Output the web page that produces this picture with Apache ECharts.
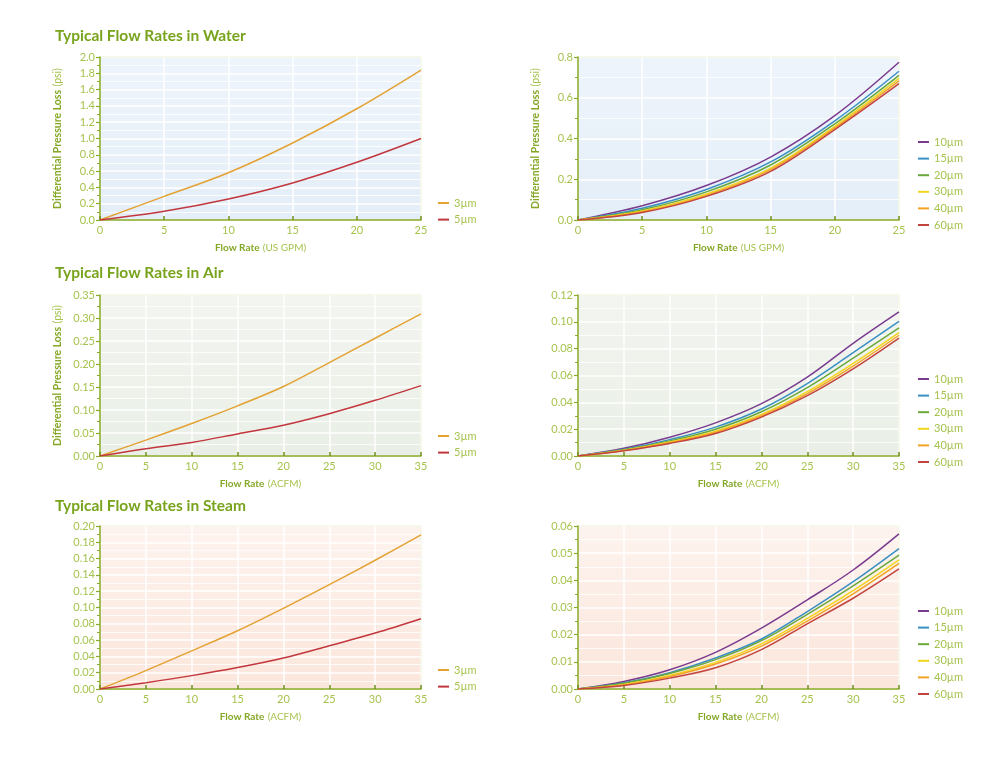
<!DOCTYPE html>
<html>
<head>
<meta charset="utf-8">
<script src="https://cdn.jsdelivr.net/npm/echarts@6/dist/echarts.min.js"></script>
<style>
  html, body { margin: 0; padding: 0; background: #fff; }
  #chart { width: 1000px; height: 782px; }
</style>
</head>
<body>
<div id="chart"></div>
<script>
// x values
var waterX = [0, 5, 10, 15, 20, 25];
var gasX = [0, 5, 10, 15, 20, 25, 30, 35];

// water, left chart
var water3 = [0, 0.29, 0.58, 0.945, 1.365, 1.84];
var water5 = [0, 0.107, 0.258, 0.455, 0.708, 1.0];
// water, right chart
var water10 = [0, 0.070, 0.169, 0.309, 0.512, 0.774];
var water15 = [0, 0.058, 0.150, 0.285, 0.487, 0.730];
var water20 = [0, 0.050, 0.138, 0.270, 0.472, 0.710];
var water30 = [0, 0.044, 0.128, 0.255, 0.460, 0.695];
var water40 = [0, 0.040, 0.121, 0.247, 0.452, 0.683];
var water60 = [0, 0.037, 0.116, 0.239, 0.444, 0.669];

// air, left chart
var air3 = [0, 0.0346, 0.0706, 0.109, 0.151, 0.203, 0.256, 0.309];
var air5 = [0, 0.016, 0.0295, 0.048, 0.067, 0.092, 0.121, 0.153];
// air, right chart
var air10 = [0, 0.0057, 0.0140, 0.0247, 0.0390, 0.0588, 0.0840, 0.1074];
var air15 = [0, 0.0050, 0.0122, 0.0215, 0.0350, 0.0540, 0.0770, 0.1003];
var air20 = [0, 0.0046, 0.0112, 0.0200, 0.0330, 0.0510, 0.0730, 0.0955];
var air30 = [0, 0.0043, 0.0104, 0.0185, 0.0310, 0.0480, 0.0690, 0.0920];
var air40 = [0, 0.0041, 0.0099, 0.0177, 0.0300, 0.0465, 0.0670, 0.0900];
var air60 = [0, 0.0040, 0.0094, 0.0168, 0.0290, 0.0450, 0.0650, 0.0879];

// steam, left chart
var steam3 = [0, 0.0226, 0.0468, 0.0715, 0.099, 0.128, 0.158, 0.189];
var steam5 = [0, 0.0078, 0.0164, 0.0263, 0.038, 0.053, 0.0686, 0.0862];
// steam, right chart
var steam10 = [0, 0.0028, 0.0071, 0.0135, 0.0224, 0.0328, 0.0438, 0.0571];
var steam15 = [0, 0.0023, 0.0060, 0.0114, 0.0184, 0.0285, 0.0395, 0.0517];
var steam20 = [0, 0.0021, 0.0057, 0.0108, 0.0178, 0.0275, 0.0380, 0.0493];
var steam30 = [0, 0.0017, 0.0050, 0.0098, 0.0166, 0.0260, 0.0362, 0.0475];
var steam40 = [0, 0.0015, 0.0046, 0.0092, 0.0158, 0.0250, 0.0350, 0.0462];
var steam60 = [0, 0.0013, 0.0040, 0.0078, 0.0145, 0.0240, 0.0334, 0.0442];

var smallNames = ['3µm', '5µm'];
var bigNames = ['10µm', '15µm', '20µm', '30µm', '40µm', '60µm'];
var titles = ['Typical Flow Rates in Water', 'Typical Flow Rates in Air', 'Typical Flow Rates in Steam'];

var colors = {
  '3µm': '#e3a233', '5µm': '#c2373d',
  '10µm': '#7a3b8f', '15µm': '#3a8fc3', '20µm': '#6aa83c',
  '30µm': '#f2d51e', '40µm': '#f3a324', '60µm': '#c2443e'
};

var FONT = 'Lato, "DejaVu Sans", sans-serif';
var green = '#8aab2a';
var labelGreen = '#a6c34e';

var chart = echarts.init(document.getElementById('chart'));

function bg(top, bottom) {
  return new echarts.graphic.LinearGradient(0, 0, 0, 1, [
    { offset: 0, color: top }, { offset: 1, color: bottom }
  ]);
}

var grids = [
  { left: 100, top: 57, width: 321, height: 163, backgroundColor: bg('#eef4fb', '#e4eef8') },
  { left: 578, top: 57, width: 321, height: 163, backgroundColor: bg('#eef4fb', '#e4eef8') },
  { left: 100, top: 295, width: 321, height: 161, backgroundColor: bg('#f3f5f0', '#e9efe6') },
  { left: 578, top: 295, width: 321, height: 161, backgroundColor: bg('#f3f5f0', '#e9efe6') },
  { left: 100, top: 526, width: 321, height: 163, backgroundColor: bg('#fdf3ee', '#fbe6dc') },
  { left: 578, top: 526, width: 321, height: 163, backgroundColor: bg('#fdf3ee', '#fbe6dc') }
];
grids.forEach(function (g) {
  g.show = true;
  g.borderColor = '#b7cc6a';
  g.borderWidth = 1;
});

function xAxis(i, max, unit) {
  return {
    type: 'value', gridIndex: i, min: 0, max: max, interval: 5,
    name: '{b|Flow Rate} {n|(' + unit + ')}',
    nameLocation: 'middle', nameGap: 22,
    nameTextStyle: {
      rich: {
        b: { fontFamily: FONT, fontWeight: 'bold', fontSize: 10, color: '#85a828' },
        n: { fontFamily: FONT, fontSize: 10, color: labelGreen }
      }
    },
    axisLine: { show: true, onZero: false, lineStyle: { color: green, width: 1.5 } },
    axisTick: { show: true, inside: true, length: 4, lineStyle: { color: '#6f8f1e', width: 1.5 } },
    axisLabel: { color: labelGreen, fontFamily: FONT, fontSize: 11, margin: 5 },
    splitLine: { show: true, lineStyle: { color: '#ffffff', width: 1.5 } }
  };
}

function yAxis(i, max, interval, digits, withName) {
  return {
    type: 'value', gridIndex: i, min: 0, max: max, interval: interval,
    name: withName ? '{b|Differential Pressure Loss} {n|(psi)}' : '',
    nameLocation: 'middle', nameGap: 36, nameRotate: 90,
    nameTextStyle: {
      rich: {
        b: { fontFamily: FONT, fontWeight: 'bold', fontSize: 10.5, color: '#85a828' },
        n: { fontFamily: FONT, fontSize: 10.5, color: labelGreen }
      }
    },
    axisLine: { show: true, lineStyle: { color: green, width: 1.5 } },
    axisTick: { show: true, length: 4, lineStyle: { color: green, width: 1.2 } },
    minorTick: { show: true, splitNumber: 2, length: 3, lineStyle: { color: green, width: 1 } },
    axisLabel: {
      color: labelGreen, fontFamily: FONT, fontSize: 11, margin: 5,
      formatter: function (v) { return v.toFixed(digits); }
    },
    splitLine: { show: true, lineStyle: { color: '#ffffff', width: 1.5 } },
    minorSplitLine: { show: true, lineStyle: { color: '#ffffff', width: 0.8 } }
  };
}

function pairs(xs, ys) {
  return xs.map(function (x, k) { return [x, ys[k]]; });
}

function line(name, i, xs, ys) {
  return {
    name: name, type: 'line', xAxisIndex: i, yAxisIndex: i,
    data: pairs(xs, ys), smooth: 0.35,
    symbol: 'none', color: colors[name],
    lineStyle: { width: 1.5, color: colors[name] }
  };
}

function legend(names, left, top) {
  return {
    data: names, orient: 'vertical', left: left, top: top,
    icon: 'rect', itemWidth: 11, itemHeight: 2, itemGap: 4.6,
    textStyle: { color: labelGreen, fontFamily: FONT, fontSize: 11, lineHeight: 12 },
    selectedMode: false
  };
}

var series = [
  line('3µm', 0, waterX, water3), line('5µm', 0, waterX, water5),
  line('10µm', 1, waterX, water10), line('15µm', 1, waterX, water15),
  line('20µm', 1, waterX, water20), line('30µm', 1, waterX, water30),
  line('40µm', 1, waterX, water40), line('60µm', 1, waterX, water60),
  line('3µm', 2, gasX, air3), line('5µm', 2, gasX, air5),
  line('10µm', 3, gasX, air10), line('15µm', 3, gasX, air15),
  line('20µm', 3, gasX, air20), line('30µm', 3, gasX, air30),
  line('40µm', 3, gasX, air40), line('60µm', 3, gasX, air60),
  line('3µm', 4, gasX, steam3), line('5µm', 4, gasX, steam5),
  line('10µm', 5, gasX, steam10), line('15µm', 5, gasX, steam15),
  line('20µm', 5, gasX, steam20), line('30µm', 5, gasX, steam30),
  line('40µm', 5, gasX, steam40), line('60µm', 5, gasX, steam60)
];

var option = {
  animation: false,
  title: [
    { text: titles[0], left: 55, top: 28 },
    { text: titles[1], left: 55, top: 265 },
    { text: titles[2], left: 55, top: 498 }
  ].map(function (t) {
    t.padding = 0;
    t.textStyle = { fontFamily: FONT, fontWeight: 'bold', fontSize: 15.5, color: '#78a31c' };
    return t;
  }),
  legend: [
    legend(smallNames, 433, 192),
    legend(bigNames, 913, 131),
    legend(smallNames, 433, 425),
    legend(bigNames, 913, 368),
    legend(smallNames, 433, 659),
    legend(bigNames, 913, 600)
  ],
  grid: grids,
  xAxis: [
    xAxis(0, 25, 'US GPM'), xAxis(1, 25, 'US GPM'),
    xAxis(2, 35, 'ACFM'), xAxis(3, 35, 'ACFM'),
    xAxis(4, 35, 'ACFM'), xAxis(5, 35, 'ACFM')
  ],
  yAxis: [
    yAxis(0, 2.0, 0.2, 1, true), yAxis(1, 0.8, 0.2, 1, true),
    yAxis(2, 0.35, 0.05, 2, true), yAxis(3, 0.12, 0.02, 2, false),
    yAxis(4, 0.20, 0.02, 2, false), yAxis(5, 0.06, 0.01, 2, false)
  ],
  series: series
};

chart.setOption(option);
</script>
</body>
</html>
